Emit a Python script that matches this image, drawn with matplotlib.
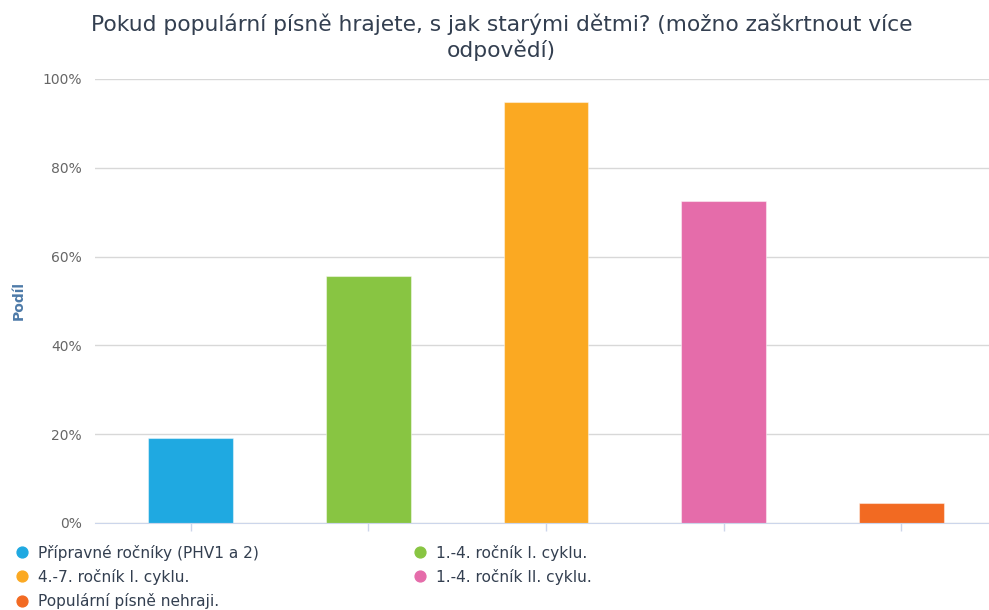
import matplotlib
matplotlib.use("Agg")
import matplotlib.pyplot as plt
from matplotlib.lines import Line2D
from matplotlib.ticker import FuncFormatter

categories = ["Přípravné ročníky (PHV1 a 2)", "1.-4. ročník I. cyklu.", "4.-7. ročník I. cyklu.",
              "1.-4. ročník II. cyklu.", "Populární písně nehraji."]
values = [19.1, 55.7, 94.8, 72.6, 4.5]
colors = ["#1fa9e1", "#88c542", "#fba922", "#e56caa", "#f26a22"]
yticks = [0, 20, 40, 60, 80, 100]
title_lines = ["Pokud populární písně hrajete, s jak starými dětmi? (možno zaškrtnout více",
               "odpovědí)"]

plt.rcParams['font.family'] = ['DejaVu Sans']
fig = plt.figure(figsize=(9.89, 6.10), dpi=100)
ax = fig.add_axes([95/989, 1-523/610, 1-95/989, (523-79)/610])

x = list(range(len(categories)))
ax.bar(x, values, width=0.475, color=colors, edgecolor=(1, 1, 1, 0.45), linewidth=0.8, zorder=3)
ax.set_xlim(-0.538, 4.493)
ax.set_ylim(0, 100)
ax.set_yticks(yticks)
ax.yaxis.set_major_formatter(FuncFormatter(lambda v, p: f"{int(v)}%"))
ax.grid(axis='y', color='#d8d8d8', linewidth=1, zorder=0)
for s in ['top', 'right', 'left']:
    ax.spines[s].set_visible(False)
ax.spines['bottom'].set_color('#ccd6eb')
ax.spines['bottom'].set_zorder(4)
ax.set_xticks(x)
ax.set_xticklabels([])
ax.tick_params(axis='x', length=6, color='#ccd6eb', width=1)
ax.tick_params(axis='y', length=0, labelcolor='#666666', labelsize=10, pad=9.5)
ax.set_ylabel("Podíl", color='#4d7aa8', fontweight='bold', fontsize=10, labelpad=12)

for i, line in enumerate(title_lines):
    fig.text(0.507, 1 - (31 + 26 * i) / 610, line, ha='center', va='baseline',
             fontsize=15.7, color='#333f50')

order = [0, 2, 4, 1, 3]
handles = [Line2D([], [], marker='o', linestyle='', markersize=7.8, color=colors[i]) for i in order]
labels = [categories[i] for i in order]
fig.legend(handles, labels, ncol=2, loc='upper left', bbox_to_anchor=(0.0083, 1-538.5/610),
           frameon=False, fontsize=11.1, labelcolor='#333f50', handletextpad=0.55,
           columnspacing=9.93, handlelength=1.0, labelspacing=0.53, borderaxespad=0)

fig.savefig("out.png", dpi=100)
